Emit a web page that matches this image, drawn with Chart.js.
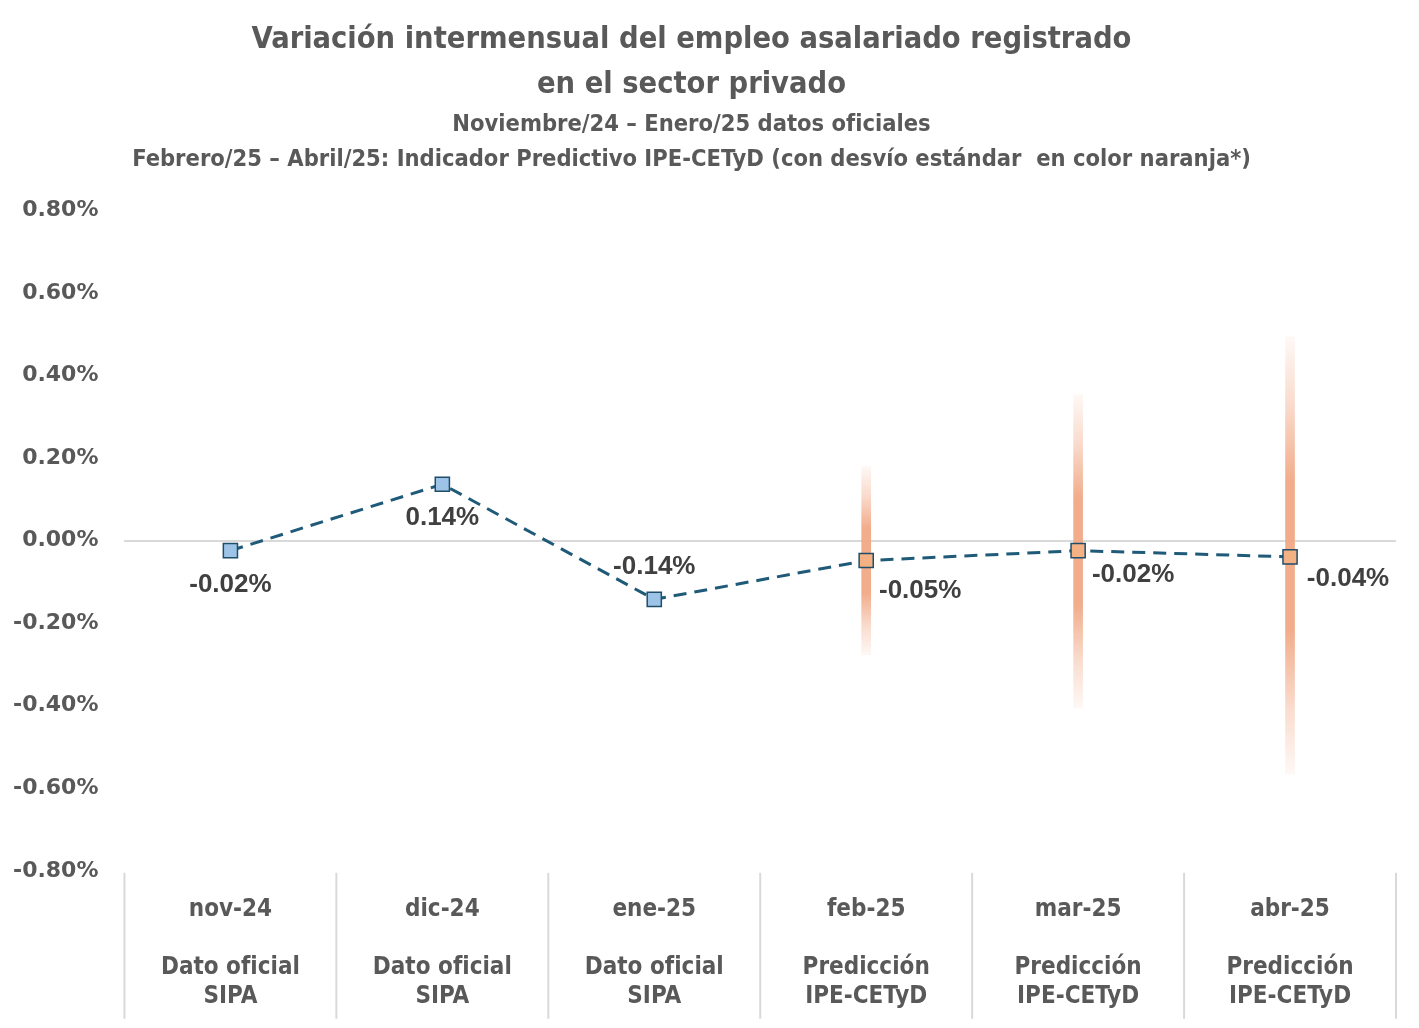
<!DOCTYPE html>
<html lang="es">
<head>
<meta charset="utf-8">
<title>Variación intermensual del empleo asalariado registrado</title>
<script src="https://cdn.jsdelivr.net/npm/chart.js@4.4.1/dist/chart.umd.min.js"></script>
<style>
  html, body { margin: 0; padding: 0; background: #ffffff; }
  #wrap { width: 1419px; height: 1028px; position: relative; }
</style>
</head>
<body>
<div id="wrap"><canvas id="empleoChart"></canvas></div>
<script>
// Datos del grafico
const categories = ['nov-24', 'dic-24', 'ene-25', 'feb-25', 'mar-25', 'abr-25'];
const sourceLine1 = ['Dato oficial', 'Dato oficial', 'Dato oficial', 'Predicción', 'Predicción', 'Predicción'];
const sourceLine2 = ['SIPA', 'SIPA', 'SIPA', 'IPE-CETyD', 'IPE-CETyD', 'IPE-CETyD'];
const values = [-0.024, 0.137, -0.142, -0.048, -0.024, -0.039];
const stdLow = [null, null, null, -0.277, -0.405, -0.566];
const stdHigh = [null, null, null, 0.180, 0.354, 0.494];
const isPrediction = [false, false, false, true, true, true];
const yMin = -0.8;
const yMax = 0.8;
const yStep = 0.2;

const TEXT_GREY = '#595959';
const NARROW = '"DejaVu Sans Condensed", "Liberation Sans Narrow", "Roboto", sans-serif';
const ORANGE = 'rgb(241, 168, 133)';

// floating bars for the standard deviation band
const bandData = categories.map((c, i) => (stdLow[i] === null ? null : [stdLow[i], stdHigh[i]]));

// multi-line category labels
const xLabels = categories.map((c, i) => [c, '', sourceLine1[i], sourceLine2[i]]);

function bandGradient(context) {
  const chart = context.chart;
  const area = chart.chartArea;
  const raw = context.raw;
  if (!area || !Array.isArray(raw)) return ORANGE;
  const y = chart.scales.y;
  const top = y.getPixelForValue(raw[1]);
  const bottom = y.getPixelForValue(raw[0]);
  const g = chart.ctx.createLinearGradient(0, top, 0, bottom);
  g.addColorStop(0, 'rgba(241, 168, 133, 0.08)');
  g.addColorStop(0.15, 'rgba(241, 168, 133, 0.4)');
  g.addColorStop(0.33, 'rgba(241, 168, 133, 0.95)');
  g.addColorStop(0.67, 'rgba(241, 168, 133, 0.95)');
  g.addColorStop(0.85, 'rgba(241, 168, 133, 0.4)');
  g.addColorStop(1, 'rgba(241, 168, 133, 0.08)');
  return g;
}

// label placement relative to each marker (dx, dy)
const labelOffsets = [[0, 34], [0, 34], [0, -33], [54, 30], [55, 24], [58, 22]];

const valueLabels = {
  id: 'valueLabels',
  afterDatasetsDraw(chart) {
    const meta = chart.getDatasetMeta(0);
    const ctx = chart.ctx;
    ctx.save();
    ctx.font = 'bold 26px "Liberation Sans", Arial, sans-serif';
    ctx.fillStyle = '#404040';
    ctx.textAlign = 'center';
    ctx.textBaseline = 'middle';
    meta.data.forEach((pt, i) => {
      const off = labelOffsets[i];
      ctx.fillText(values[i].toFixed(2) + '%', pt.x + off[0], pt.y + off[1]);
    });
    ctx.restore();
  }
};

// vertical separators between categories, below the plot
const categorySeparators = {
  id: 'categorySeparators',
  afterDraw(chart) {
    const x = chart.scales.x;
    const area = chart.chartArea;
    const step = x.getPixelForValue(1) - x.getPixelForValue(0);
    const ctx = chart.ctx;
    ctx.save();
    ctx.strokeStyle = '#D9D9D9';
    ctx.lineWidth = 2;
    for (let i = 0; i <= categories.length; i++) {
      const px = x.getPixelForValue(0) - step / 2 + i * step;
      ctx.beginPath();
      ctx.moveTo(px, area.bottom + 2);
      ctx.lineTo(px, area.bottom + 148);
      ctx.stroke();
    }
    ctx.restore();
  }
};

new Chart(document.getElementById('empleoChart'), {
  data: {
    labels: xLabels,
    datasets: [
      {
        type: 'line',
        label: 'Variación',
        data: values,
        order: 0,
        borderColor: '#1F5A78',
        borderWidth: 3,
        borderDash: [13, 8],
        fill: false,
        tension: 0,
        pointStyle: 'rect',
        pointRadius: 10,
        pointBorderWidth: 1.5,
        pointBorderColor: '#1F4E6B',
        pointBackgroundColor: isPrediction.map(p => (p ? '#F4B183' : '#9DC3E6'))
      },
      {
        type: 'bar',
        label: 'Desvío estándar',
        data: bandData,
        order: 1,
        barThickness: 9,
        backgroundColor: bandGradient,
        borderWidth: 0
      }
    ]
  },
  options: {
    responsive: true,
    maintainAspectRatio: false,
    animation: false,
    layout: { padding: { left: -13, right: 23, top: 0, bottom: 0 } },
    plugins: {
      legend: { display: false },
      tooltip: { enabled: false },
      title: {
        display: true,
        text: ['Variación intermensual del empleo asalariado registrado', 'en el sector privado'],
        color: TEXT_GREY,
        font: { family: NARROW, size: 30.5, weight: 'bold', lineHeight: 1.47 },
        padding: { top: 18, bottom: 0 }
      },
      subtitle: {
        display: true,
        text: ['Noviembre/24 – Enero/25 datos oficiales',
               'Febrero/25 – Abril/25: Indicador Predictivo IPE-CETyD (con desvío estándar  en color naranja*)'],
        color: TEXT_GREY,
        font: { family: NARROW, size: 23.5, weight: 'bold', lineHeight: 1.49 },
        padding: { top: 0, bottom: 33 }
      }
    },
    scales: {
      x: {
        offset: true,
        border: { display: false },
        grid: { offset: true, display: false },
        ticks: {
          color: TEXT_GREY,
          padding: 17,
          maxRotation: 0,
          autoSkip: false,
          font: { family: NARROW, size: 24, weight: 'bold', lineHeight: 1.2 }
        }
      },
      y: {
        min: yMin,
        max: yMax,
        border: { display: false },
        grid: {
          drawTicks: false,
          lineWidth: 2,
          color: (ctx) => (ctx.tick && Math.abs(ctx.tick.value) < 1e-9 ? '#D9D9D9' : 'rgba(0,0,0,0)')
        },
        ticks: {
          stepSize: yStep,
          padding: 26,
          color: TEXT_GREY,
          font: { family: '"DejaVu Sans", Verdana, sans-serif', size: 22, weight: 'bold' },
          callback: (v) => v.toFixed(2) + '%'
        }
      }
    }
  },
  plugins: [valueLabels, categorySeparators]
});
</script>
</body>
</html>
